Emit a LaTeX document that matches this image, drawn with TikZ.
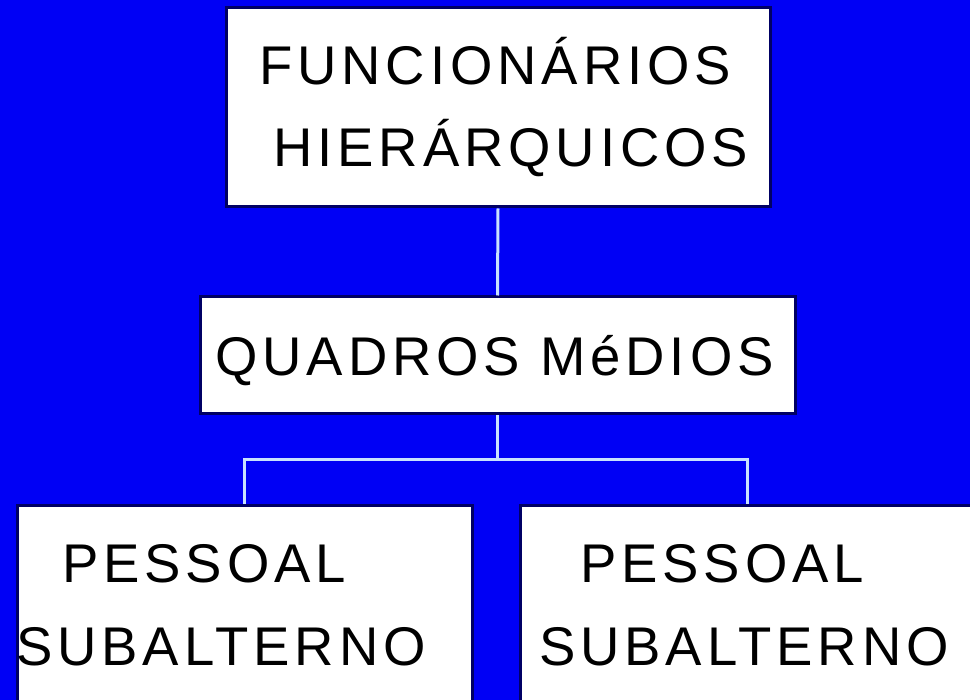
\documentclass[tikz,border=0pt]{standalone}
\usepackage{fontspec}
\setmainfont{Liberation Sans}[LetterSpace=9]
\definecolor{bgblue}{RGB}{0,0,245}
\definecolor{navy}{RGB}{0,0,100}
\definecolor{linkblue}{RGB}{200,225,255}
\begin{document}
\begin{tikzpicture}[x=1pt,y=-1pt,
  box/.style={draw=navy,line width=3pt,fill=white,inner sep=0pt,rectangle},
  lbl/.style={anchor=base west,inner sep=0pt,font=\fontsize{54.5}{60}\selectfont},
  link/.style={draw=linkblue,line width=3pt}]
\useasboundingbox (0,0) rectangle (970,700);
\clip (0,0) rectangle (970,700);
\fill[bgblue] (0,0) rectangle (970,700);
\node[box,minimum width=544pt,minimum height=199pt] (top) at (498,107.5) {};
\node[box,minimum width=595pt,minimum height=117pt] (mid) at (497.5,355.5) {};
\node[box,minimum width=455pt,minimum height=214pt] (left) at (244.5,613) {};
\node[box,minimum width=455pt,minimum height=214pt] (right) at (747.5,613) {};
\coordinate (j) at (497.5,460);
\draw[link] (top.south) -- (mid.north);
\draw[link] (mid.south) -- (j) -| (left.north);
\draw[link] (j) -| (right.north);
\node[lbl] (t1) at (259,85) {FUNCIONÁRIOS};
\node[lbl] (t2) at (273,167) {HIERÁRQUICOS};
\node[lbl] (m1) at (215,376) {QUADROS MéDIOS};
\node[lbl] (l1) at (62,583) {PESSOAL};
\node[lbl] (l2) at (16,665) {SUBALTERNO};
\node[lbl] (r1) at (580,583) {PESSOAL};
\node[lbl] (r2) at (539,665) {SUBALTERNO};
\end{tikzpicture}
\end{document}
